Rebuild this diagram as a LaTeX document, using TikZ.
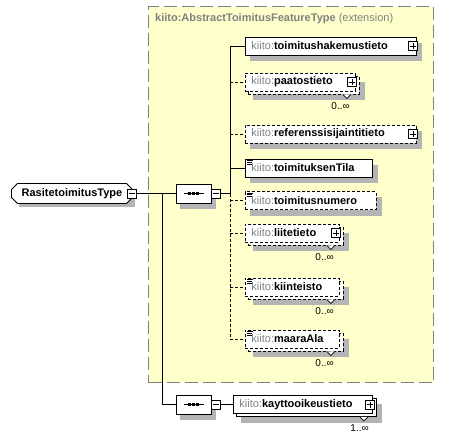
\documentclass[tikz,border=0pt]{standalone}
\usepackage{fontspec}
\setmainfont{Liberation Sans}
\usetikzlibrary{shapes.misc}
\definecolor{ylw}{HTML}{FFFFCC}
\definecolor{shdc}{HTML}{B4B4B4}
\definecolor{kgray}{HTML}{808080}
\newcommand\kq[1]{{\color{kgray}kiito:}\textbf{#1}}
\pgfdeclarelayer{back}
\pgfdeclarelayer{shadowlayer}
\pgfsetlayers{back,shadowlayer,main}
\begin{document}
\begin{tikzpicture}[x=1pt,y=-1pt,
  every node/.style={font=\fontsize{11}{13}\selectfont},
  ebox/.style={draw, fill=white, line width=0.9pt, minimum height=18pt, inner xsep=6pt, inner ysep=0pt, align=left, anchor=west},
  bbox/.style={draw, fill=white, line width=0.9pt, minimum height=18pt, inner sep=0pt, anchor=west},
  optl/.style={dash pattern=on 3pt off 2pt},
  conn/.style={line width=0.8pt},
  pbox/.style={draw, fill=white, line width=0.7pt, minimum size=9pt, inner sep=0pt,
    path picture={\draw[line width=0.7pt] ([xshift=1.5pt]path picture bounding box.west) -- ([xshift=-1.5pt]path picture bounding box.east);
                  \draw[line width=0.7pt] ([yshift=-1.5pt]path picture bounding box.north) -- ([yshift=1.5pt]path picture bounding box.south);}},
  mbox/.style={draw, fill=white, line width=0.7pt, minimum size=9pt, inner sep=0pt,
    path picture={\draw[line width=0.7pt] ([xshift=1.5pt]path picture bounding box.west) -- ([xshift=-1.5pt]path picture bounding box.east);}},
  seqbox/.style={chamfered rectangle, chamfered rectangle sep=6pt, draw, fill=white, line width=0.9pt, minimum width=35pt, minimum height=19pt, inner sep=0pt},
  seqline/.style={line width=0.9pt},
  rootbox/.style={chamfered rectangle, chamfered rectangle sep=3pt, draw, fill=white, line width=0.9pt, minimum height=20pt, minimum width=121pt, inner xsep=6pt, inner ysep=0pt, anchor=west, font=\fontsize{11}{13}\selectfont\bfseries},
  extbox/.style={draw=kgray, fill=ylw, line width=1.3pt, dash pattern=on 13pt off 5pt, minimum width=285pt, minimum height=376pt, anchor=north west, inner sep=0pt},
  occ/.style={font=\fontsize{10}{12}\selectfont, anchor=east, inner sep=0pt},
  notch/.style={line width=0.7pt, fill=white},
  icon/.style={line width=0.6pt},
  shadowfill/.style={fill=shdc}
]
\useasboundingbox (0,0) rectangle (452,440);
% extension region
\begin{pgfonlayer}{back}
\node[extbox] (ext) at (148,6) {};
\end{pgfonlayer}
\node[anchor=west, inner sep=0pt, text=kgray] (ttl) at (155,19) {\textbf{kiito:AbstractToimitusFeatureType} (extension)};

% root and sequences
\node[rootbox] (root) at (11,193.5) {RasitetoimitusType};
\node[mbox] (rootm) at ([xshift=-1pt]root.east) {};
\foreach \s/\y in {seq1/193.5, seq2/404.5}{
  \node[seqbox] (\s) at (193.5,\y) {};
  \node[mbox, anchor=west] (\s m) at (\s.east) {};
  \draw[seqline] ([xshift=-10pt]\s.center) -- ([xshift=10pt]\s.center);
  \foreach \d in {-4,0,4}
    \fill ([xshift=\d pt]\s.center) +(-1.6pt,-1.6pt) rectangle +(1.6pt,1.6pt);
}

% elements
\node[ebox, text width=159pt] (e1) at (245,46) {\kq{toimitushakemustieto}};
\node[pbox] (e1p) at ([xshift=-4pt]e1.east) {};

\node[bbox, optl, minimum width=111pt] (e2b) at (248,85) {};
\node[ebox, optl, text width=98pt] (e2) at (245,82) {\kq{paatostieto}};
\node[pbox] (e2p) at ([xshift=-4pt]e2.east) {};
\draw[notch] ([xshift=-17pt]e2b.south east) -- ++(4pt,-4pt) -- ++(4pt,4pt);
\node[occ] (o2) at ([xshift=-10pt,yshift=-21pt]e2b.east) {0..∞};

\node[ebox, optl, text width=159pt] (e3) at (245,134) {\kq{referenssisijaintitieto}};
\node[pbox] (e3p) at ([xshift=-4pt]e3.east) {};

\node[ebox, text width=115pt] (e4) at (245,168) {\kq{toimituksenTila}};
\node[ebox, optl, text width=119pt] (e5) at (245,200.5) {\kq{toimitusnumero}};

\node[bbox, optl, minimum width=95pt] (e6b) at (248,236) {};
\node[ebox, optl, text width=82pt] (e6) at (245,233) {\kq{liitetieto}};
\node[pbox] (e6p) at ([xshift=-4pt]e6.east) {};
\draw[notch] ([xshift=-17pt]e6b.south east) -- ++(4pt,-4pt) -- ++(4pt,4pt);
\node[occ] (o6) at ([xshift=-10pt,yshift=-21pt]e6b.east) {0..∞};

\node[bbox, optl, minimum width=95pt] (e7b) at (248,290) {};
\node[ebox, optl, text width=82pt] (e7) at (245,287) {\kq{kiinteisto}};
\draw[notch] ([xshift=-17pt]e7b.south east) -- ++(4pt,-4pt) -- ++(4pt,4pt);
\node[occ] (o7) at ([xshift=-10pt,yshift=-21pt]e7b.east) {0..∞};

\node[bbox, optl, minimum width=95pt] (e8b) at (248,342) {};
\node[ebox, optl, text width=82pt] (e8) at (245,339) {\kq{maaraAla}};
\draw[notch] ([xshift=-17pt]e8b.south east) -- ++(4pt,-4pt) -- ++(4pt,4pt);
\node[occ] (o8) at ([xshift=-10pt,yshift=-21pt]e8b.east) {0..∞};

\node[bbox, minimum width=140pt] (e9b) at (236,407.5) {};
\node[ebox, text width=127pt] (e9) at (233,404.5) {\kq{kayttooikeustieto}};
\node[pbox] (e9p) at ([xshift=-3pt]e9.east) {};
\draw[notch] ([xshift=-17pt]e9b.south east) -- ++(4pt,-4pt) -- ++(4pt,4pt);
\node[occ] (o9) at ([xshift=-8pt,yshift=-21pt]e9b.east) {1..∞};

% shadows
\begin{pgfonlayer}{shadowlayer}
\foreach \n in {root,e1,e2b,e3,e4,e5,e6b,e7b,e8b,e9b}{
  \fill[shadowfill] ([shift={(5pt,-6pt)}]\n.north west) rectangle ([shift={(5pt,-6pt)}]\n.south east);
}
\foreach \s in {seq1,seq2}{
  \node[seqbox, draw=shdc, fill=shdc] (\s sh) at ([shift={(4pt,-5pt)}]\s.center) {};
}
\end{pgfonlayer}

% simple-content icons
\foreach \n in {e4,e5,e7,e8}{
  \draw[icon] ([shift={(2pt,-1.8pt)}]\n.north west) -- +(6pt,0pt);
  \draw[icon] ([shift={(2pt,-3.6pt)}]\n.north west) -- +(5pt,0pt);
  \draw[icon] ([shift={(2pt,-5.4pt)}]\n.north west) -- +(5pt,0pt);
}

% connectors
\draw[conn] (rootm.east) -- (seq1.west);
\coordinate (lj) at (162,193.5);
\draw[conn] (lj) |- (seq2.west);
\draw[conn] (seq2m.east) -- (e9.west);
\coordinate (vt) at (230,46);
\coordinate (vm) at (230,193.5);
\coordinate (vb) at (230,339);
\draw[conn] (seq1m.east) -- (vm);
\draw[conn] (vt) -- (vm);
\draw[conn, optl] (vm) -- (vb);
\draw[conn] (e1.west -| vm) -- (e1.west);
\draw[conn] (e4.west -| vm) -- (e4.west);
\foreach \n in {e2,e3,e5,e6,e7,e8}{
  \draw[conn, optl] (\n.west -| vm) -- (\n.west);
}
\end{tikzpicture}
\end{document}
